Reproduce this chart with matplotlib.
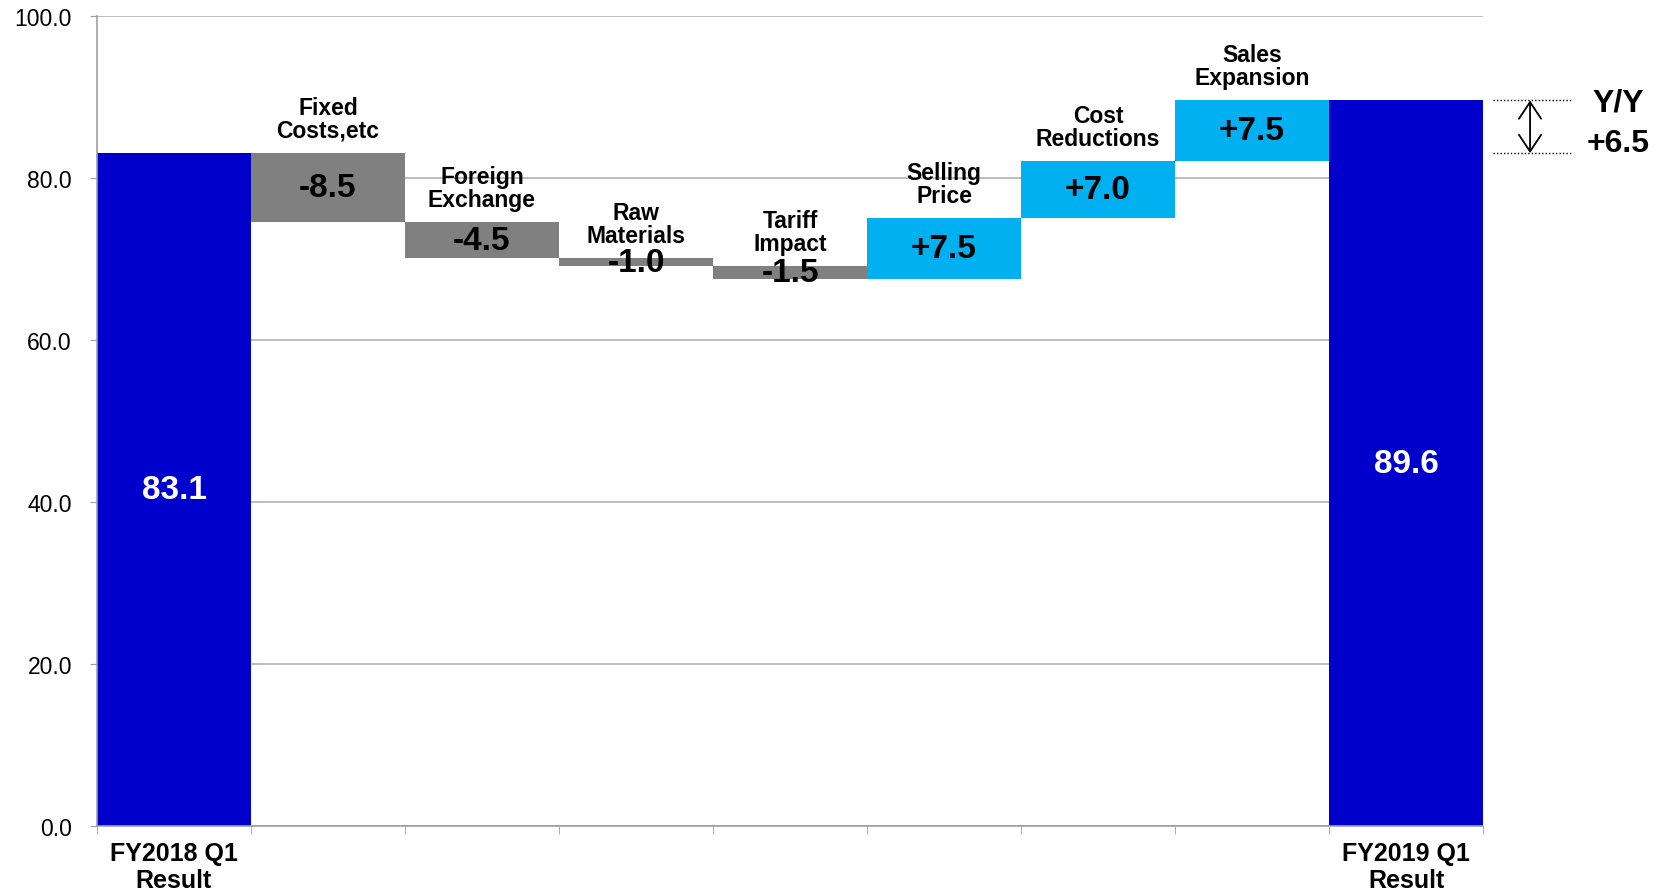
import numpy as np
from matplotlib import pyplot as plt

plt.rcParams['font.family'] = ['Liberation Sans', 'DejaVu Sans']

categories = ["FY2018 Q1\nResult", "Fixed\nCosts,etc", "Foreign\nExchange", "Raw\nMaterials",
              "Tariff\nImpact", "Selling\nPrice", "Cost\nReductions", "Sales\nExpansion",
              "FY2019 Q1\nResult"]
start_value = 83.1
changes = [-8.5, -4.5, -1.0, -1.5, 7.5, 7.0, 7.5]
end_value = 89.6
y_ticks = [0, 20, 40, 60, 80, 100]

blue = '#0000CC'
gray = '#808080'
cyan = '#00B0F0'

# waterfall: bottoms / heights from running total
levels = start_value + np.cumsum([0] + changes)
heights = [start_value] + [abs(c) for c in changes] + [end_value]
bottoms = [0] + [min(levels[i], levels[i + 1]) for i in range(len(changes))] + [0]
colors = [blue] + [gray if c < 0 else cyan for c in changes] + [blue]
x = np.arange(len(categories))

fig = plt.figure(figsize=(16.69, 8.95), dpi=100)
ax = fig.add_axes([0.0581, 0.0763, 0.8305, 0.9044])

ax.bar(x, heights, bottom=bottoms, width=1.0, color=colors, zorder=2)

ax.set_xlim(-0.5, len(categories) - 0.5)
ax.set_ylim(0, 100)
ax.set_yticks(y_ticks)
ax.set_yticklabels(["%.1f" % v for v in y_ticks], fontsize=16.5)
ax.tick_params(axis='y', length=5, color='#A0A0A0', pad=13)
ax.yaxis.grid(True, color='#B0B0B0', lw=1.2)
ax.set_axisbelow(True)

# only the two result bars get labels under the axis
ax.set_xticks([0, len(categories) - 1])
ax.set_xticklabels([categories[0], categories[-1]], fontsize=18, fontweight='bold',
                   linespacing=1.15)
ax.tick_params(axis='x', length=0, pad=11)
ax.set_xticks(np.arange(len(categories) + 1) - 0.5, minor=True)
ax.tick_params(axis='x', which='minor', length=6, color='#A0A0A0')

for side in ['top', 'right']:
  ax.spines[side].set_visible(False)
for side in ['left', 'bottom']:
  ax.spines[side].set_color('#A0A0A0')
  ax.spines[side].set_linewidth(1.2)

# value labels in the middle of each bar
for i in range(len(categories)):
  mid = bottoms[i] + heights[i] / 2
  if i == 0 or i == len(categories) - 1:
    txt = "%.1f" % heights[i]
    col = 'white'
  else:
    txt = "%+.1f" % changes[i - 1]
    col = 'black'
  ax.text(x[i], mid, txt, ha='center', va='center', fontsize=24,
          fontweight='bold', color=col, zorder=3)

# category names above the change bars
for i, c in enumerate(changes):
  top = max(levels[i], levels[i + 1])
  ax.annotate(categories[i + 1], (x[i + 1], top), xytext=(0, 8),
              textcoords='offset points', ha='center', va='bottom',
              fontsize=16.5, fontweight='bold', linespacing=1.0)

# Y/Y marker on the right
x_dot = [8.565, 9.078]
ax.plot(x_dot, [end_value, end_value], color='black', lw=1, ls=(0, (1, 1.5)), clip_on=False)
ax.plot(x_dot, [start_value, start_value], color='black', lw=1, ls=(0, (1, 1.5)), clip_on=False)
ax.annotate("", xy=(8.805, end_value), xytext=(8.805, start_value),
            arrowprops=dict(arrowstyle="<->,head_length=0.6,head_width=0.4",
                            color='black', lw=1.3, mutation_scale=20,
                            shrinkA=0, shrinkB=0),
            annotation_clip=False)
ax.text(9.38, 89.3, "Y/Y", ha='center', va='center', fontsize=23, fontweight='bold',
        clip_on=False)
ax.text(9.38, 84.3, "%+.1f" % (end_value - start_value), ha='center', va='center',
        fontsize=23, fontweight='bold', clip_on=False)

plt.savefig('out.png', dpi=100)
